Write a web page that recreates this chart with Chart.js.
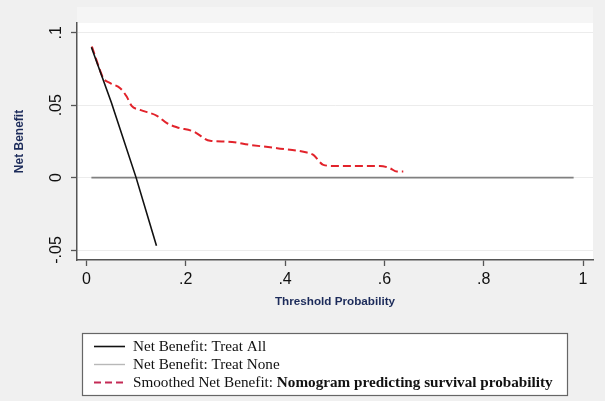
<!DOCTYPE html>
<html>
<head>
<meta charset="utf-8">
<script src="https://cdn.jsdelivr.net/npm/chart.js@4.4.0/dist/chart.umd.min.js"></script>
<style>
  html, body { margin: 0; padding: 0; background: #f0f0f0; }
  #wrap { width: 605px; height: 401px; }
</style>
</head>
<body>
<div id="wrap"><canvas id="dca" width="605" height="401"></canvas></div>
<script>
// values
var treatAllX = [0.01, 0.05, 0.1, 0.141];
var treatAllY = [0.09, 0.052, 0, -0.047];

var treatNoneX = [0.01, 0.981];
var treatNoneY = [0, 0];

var nomogramX = [0.011, 0.027, 0.034, 0.048, 0.068, 0.081, 0.091, 0.108, 0.142, 0.162, 0.182, 0.216,
                 0.249, 0.283, 0.33, 0.384, 0.444, 0.457, 0.477, 0.497, 0.591, 0.611, 0.625, 0.638];
var nomogramY = [0.0906, 0.0745, 0.0687, 0.0653, 0.0618, 0.056, 0.0496, 0.0468, 0.0427, 0.0376, 0.0348, 0.0318,
                 0.0254, 0.0249, 0.0226, 0.0203, 0.0173, 0.0157, 0.0088, 0.0081, 0.0081, 0.0065, 0.0042, 0.0042];

var xTicks = [0, 0.2, 0.4, 0.6, 0.8, 1];
var xTickLabels = ['0', '.2', '.4', '.6', '.8', '1'];
var yTicks = [-0.05, 0, 0.05, 0.1];
var yTickLabels = ['-.05', '0', '.05', '.1'];

var legendPlain = ['Net Benefit: Treat All', 'Net Benefit: Treat None', 'Smoothed Net Benefit: '];
var legendBold = ['', '', 'Nomogram predicting survival probability'];

function pts(xs, ys) {
    return xs.map(function (x, i) { return {x: x, y: ys[i]}; });
}

var navy = '#1c2b5a';
var axisGrey = '#555555';

var background = {
    id: 'background',
    beforeDraw: function (chart) {
        var ctx = chart.ctx, a = chart.chartArea;
        ctx.save();
        ctx.fillStyle = '#f0f0f0';
        ctx.fillRect(0, 0, chart.width, chart.height);
        ctx.fillStyle = '#f5f5f5';
        ctx.fillRect(a.left, 7, a.right - a.left, a.top - 7);
        ctx.fillStyle = '#ffffff';
        ctx.fillRect(a.left, a.top, a.right - a.left, a.bottom - a.top);
        ctx.restore();
    }
};

var boxLegend = {
    id: 'boxLegend',
    afterDraw: function (chart) {
        var ctx = chart.ctx;
        var styles = [
            {color: '#111111', width: 1.6, dash: []},
            {color: '#b8b8b8', width: 1.4, dash: []},
            {color: '#c42a55', width: 2, dash: [7, 4]}
        ];
        ctx.save();
        ctx.fillStyle = '#ffffff';
        ctx.fillRect(82.5, 333.5, 485, 62);
        ctx.strokeStyle = '#666666';
        ctx.lineWidth = 1.2;
        ctx.strokeRect(82.5, 333.5, 485, 62);
        ctx.textBaseline = 'middle';
        for (var i = 0; i < 3; i++) {
            var y = 346.5 + i * 18;
            ctx.beginPath();
            ctx.setLineDash(styles[i].dash);
            ctx.strokeStyle = styles[i].color;
            ctx.lineWidth = styles[i].width;
            ctx.moveTo(94, y);
            ctx.lineTo(125, y);
            ctx.stroke();
            ctx.setLineDash([]);
            ctx.fillStyle = '#111111';
            ctx.font = '15.2px "Liberation Serif"';
            ctx.fillText(legendPlain[i], 133, y + 1);
            if (legendBold[i]) {
                var w = ctx.measureText(legendPlain[i]).width;
                ctx.font = 'bold 15.2px "Liberation Serif"';
                ctx.fillText(legendBold[i], 133 + w, y + 1);
            }
        }
        ctx.restore();
    }
};

var ctx = document.getElementById('dca').getContext('2d');
var chart = new Chart(ctx, {
    type: 'line',
    data: {
        datasets: [{
            label: 'Net Benefit: Treat All',
            data: pts(treatAllX, treatAllY),
            borderColor: '#111111',
            borderWidth: 1.6,
            pointRadius: 0
        }, {
            label: 'Net Benefit: Treat None',
            data: pts(treatNoneX, treatNoneY),
            borderColor: '#808080',
            borderWidth: 1.6,
            pointRadius: 0
        }, {
            label: 'Smoothed Net Benefit: Nomogram predicting survival probability',
            data: pts(nomogramX, nomogramY),
            borderColor: '#e2232b',
            borderWidth: 2,
            borderDash: [8, 4],
            cubicInterpolationMode: 'monotone',
            pointRadius: 0
        }]
    },
    options: {
        responsive: false,
        animation: false,
        layout: {padding: {left: 0, top: 23, right: 12, bottom: 88}},
        plugins: {legend: {display: false}, tooltip: {enabled: false}},
        scales: {
            x: {
                type: 'linear',
                min: -0.019,
                max: 1.02,
                afterBuildTicks: function (scale) {
                    scale.ticks = xTicks.map(function (v) { return {value: v}; });
                },
                afterFit: function (scale) { scale.height = 53; },
                border: {color: axisGrey, width: 1.5},
                grid: {display: true, color: 'rgba(0,0,0,0)', drawTicks: true, tickLength: 6, tickColor: axisGrey, tickWidth: 1.3},
                ticks: {
                    color: '#111111',
                    font: {family: '"Liberation Sans"', size: 16},
                    padding: 4,
                    maxRotation: 0,
                    callback: function (v) { return xTickLabels[xTicks.indexOf(v)]; }
                },
                title: {
                    display: true,
                    text: 'Threshold Probability',
                    color: navy,
                    font: {family: '"Liberation Sans"', size: 11.7, weight: 'bold'},
                    padding: {top: 0, bottom: 4}
                }
            },
            y: {
                type: 'linear',
                min: -0.0569,
                max: 0.1068,
                afterBuildTicks: function (scale) {
                    scale.ticks = yTicks.map(function (v) { return {value: v}; });
                },
                afterFit: function (scale) { scale.width = 77; },
                border: {color: axisGrey, width: 1.5},
                grid: {color: '#ececec', lineWidth: 1, drawTicks: true, tickLength: 6, tickColor: axisGrey, tickWidth: 1.3},
                ticks: {
                    color: '#111111',
                    font: {family: '"Liberation Sans"', size: 16},
                    padding: 1,
                    minRotation: 90,
                    maxRotation: 90,
                    crossAlign: 'center',
                    callback: function (v) { return yTickLabels[yTicks.indexOf(v)]; }
                },
                title: {
                    display: true,
                    text: 'Net Benefit',
                    color: navy,
                    font: {family: '"Liberation Sans"', size: 12, weight: 'bold'},
                    padding: {top: 12, bottom: 0}
                }
            }
        }
    },
    plugins: [background, boxLegend]
});
</script>
</body>
</html>
